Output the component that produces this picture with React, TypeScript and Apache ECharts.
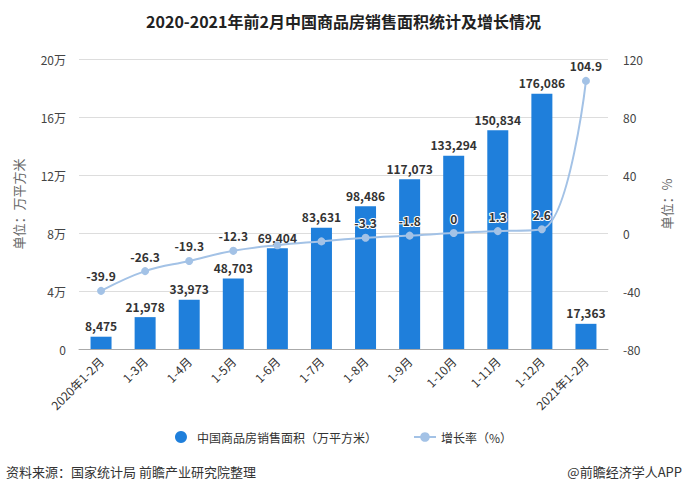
import React, { useEffect, useRef } from "react";
import * as echarts from "echarts";

const categories = ["2020年1-2月", "1-3月", "1-4月", "1-5月", "1-6月", "1-7月", "1-8月", "1-9月", "1-10月", "1-11月", "1-12月", "2021年1-2月"];
const salesArea = [8475, 21978, 33973, 48703, 69404, 83631, 98486, 117073, 133294, 150834, 176086, 17363];
const growthRate = [-39.9, -26.3, -19.3, -12.3, -8.4, -5.8, -3.3, -1.8, 0, 1.3, 2.6, 104.9];
const hiddenGrowthLabels = [4, 5];

const FONT = "'Noto Sans CJK SC', 'Noto Sans', sans-serif";

export default function App() {
  const ref = useRef<HTMLDivElement>(null);
  useEffect(() => {
    if (!ref.current) return;
    const chart = echarts.init(ref.current, undefined, { renderer: "svg" });
    chart.setOption({
      animation: false,
      backgroundColor: "#fff",
      textStyle: { fontFamily: FONT },
      title: {
        text: "2020-2021年前2月中国商品房销售面积统计及增长情况",
        left: "center",
        top: 8,
        textStyle: { fontSize: 16, fontWeight: "bold", color: "#222", fontFamily: FONT },
      },
      legend: {
        bottom: 46,
        left: "center",
        itemGap: 36,
        itemWidth: 22,
        itemHeight: 12,
        textStyle: { fontSize: 12, color: "#333", fontFamily: FONT },
        data: [
          { name: "中国商品房销售面积（万平方米）", icon: "circle" },
          { name: "增长率（%）" },
        ],
      },
      graphic: [
        {
          type: "text",
          left: 6,
          top: 465,
          style: { text: "资料来源：国家统计局 前瞻产业研究院整理", fontSize: 13, fill: "#333", fontFamily: FONT },
        },
        {
          type: "text",
          right: 5,
          top: 465,
          style: { text: "@前瞻经济学人APP", fontSize: 13, fill: "#333", fontFamily: FONT },
        },
      ],
      grid: { left: 79, right: 79, top: 59, bottom: 145 },
      xAxis: {
        type: "category",
        data: categories,
        axisTick: { alignWithLabel: true, lineStyle: { color: "#999" } },
        axisLine: { lineStyle: { color: "#aaa" } },
        axisLabel: { rotate: 45, fontSize: 12, color: "#333", margin: 10, interval: 0 },
      },
      yAxis: [
        {
          type: "value",
          min: 0,
          max: 200000,
          interval: 40000,
          name: "单位：万平方米",
          nameLocation: "middle",
          nameGap: 54,
          nameTextStyle: { fontSize: 13, color: "#666" },
          axisLabel: {
            fontSize: 12,
            color: "#444",
            margin: 13,
            formatter: (v: number) => (v === 0 ? "0" : v / 10000 + "万"),
          },
          splitLine: { lineStyle: { color: "#ddd" } },
          axisLine: { show: false },
          axisTick: { show: false },
        },
        {
          type: "value",
          min: -80,
          max: 120,
          interval: 40,
          name: "单位：%",
          nameLocation: "middle",
          nameGap: 52,
          nameTextStyle: { fontSize: 13, color: "#666" },
          axisLabel: { fontSize: 12, color: "#444", margin: 15 },
          splitLine: { show: false },
          axisLine: { show: false },
          axisTick: { show: false },
        },
      ],
      series: [
        {
          name: "中国商品房销售面积（万平方米）",
          type: "bar",
          data: salesArea,
          barWidth: 21,
          itemStyle: { color: "#1f7fdb" },
          label: {
            show: true,
            position: "top",
            fontSize: 12,
            fontWeight: "bold",
            color: "#333",
            formatter: (p: any) => Number(p.value).toLocaleString("en-US"),
          },
        },
        {
          name: "增长率（%）",
          type: "line",
          yAxisIndex: 1,
          smooth: 0.4,
          symbol: "circle",
          symbolSize: 8,
          data: growthRate.map((v, i) => ({
            value: v,
            label: { show: !hiddenGrowthLabels.includes(i) },
          })),
          lineStyle: { color: "#a3c2e6", width: 2 },
          itemStyle: { color: "#a3c2e6" },
          label: {
            show: true,
            position: "top",
            fontSize: 12,
            fontWeight: "bold",
            color: "#333",
            textBorderColor: "#fff",
            textBorderWidth: 2,
          },
          z: 5,
        },
      ],
    });
    return () => chart.dispose();
  }, []);
  return <div ref={ref} style={{ width: 687, height: 494, position: "absolute", left: 0, top: 0 }} />;
}
